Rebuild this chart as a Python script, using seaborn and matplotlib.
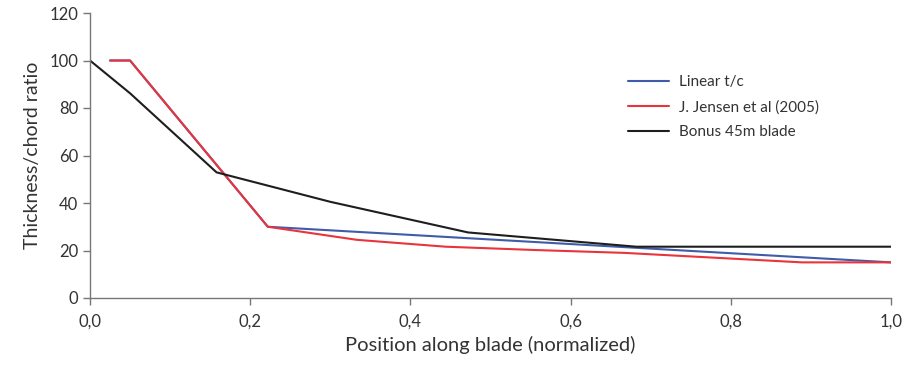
import matplotlib
matplotlib.use("Agg")
import matplotlib.pyplot as plt
import seaborn as sns
import pandas as pd
from matplotlib.ticker import FuncFormatter

sns.set_theme(style="white")
plt.rcParams['font.family'] = ['Lato', 'DejaVu Sans']

# Data
linear_x = [0.025, 0.05, 0.222, 1.0]
linear_y = [100, 100, 30, 15]
jensen_x = [0.025, 0.05, 0.222, 0.333, 0.444, 0.556, 0.667, 0.778, 0.889, 1.0]
jensen_y = [100, 100, 30, 24.5, 21.6, 20.2, 19.0, 17.0, 15.0, 15.0]
bonus_x = [0.0, 0.05, 0.158, 0.3, 0.472, 0.682, 1.0]
bonus_y = [100, 86.2, 52.9, 40.5, 27.6, 21.6, 21.6]
labels = ["Linear t/c", "J. Jensen et al (2005)", "Bonus 45m blade"]
colors = ["#3F5BAA", "#E8343C", "#1E1E1E"]

fig = plt.figure(figsize=(9.08, 3.65), dpi=100)
ax = fig.add_axes([90/908, 1-298/365, (891-90)/908, (298-13)/365])

for xs, ys, lab, col in zip([linear_x, jensen_x, bonus_x], [linear_y, jensen_y, bonus_y], labels, colors):
    df = pd.DataFrame({"x": xs, "y": ys})
    sns.lineplot(data=df, x="x", y="y", ax=ax, color=col, lw=1.5, label=lab, sort=False, estimator=None)

ax.set_xlim(0, 1.0)
ax.set_ylim(0, 120)
ax.set_xticks([0, 0.2, 0.4, 0.6, 0.8, 1.0])
ax.set_yticks([0, 20, 40, 60, 80, 100, 120])
ax.xaxis.set_major_formatter(FuncFormatter(lambda v, p: f"{v:.1f}".replace(".", ",")))
ax.set_xlabel("Position along blade (normalized)", fontsize=14.5, color="#333333", labelpad=5)
ax.set_ylabel("Thickness/chord ratio", fontsize=14, color="#333333", labelpad=6)

for s in ["top", "right"]:
    ax.spines[s].set_visible(False)
for s in ["left", "bottom"]:
    ax.spines[s].set_color("#777777")
    ax.spines[s].set_linewidth(1.0)
ax.tick_params(axis="both", which="major", direction="out", length=5, width=1.0,
               color="#777777", labelsize=12, labelcolor="#333333",
               left=True, bottom=True)
ax.tick_params(axis="x", pad=6)

leg = ax.legend(loc="upper left", bbox_to_anchor=(0.655, 0.83), frameon=False,
                fontsize=11, handlelength=2.65, handletextpad=0.65, labelspacing=0.7)
for t in leg.get_texts():
    t.set_color("#333333")

fig.savefig("out.png", dpi=100)
